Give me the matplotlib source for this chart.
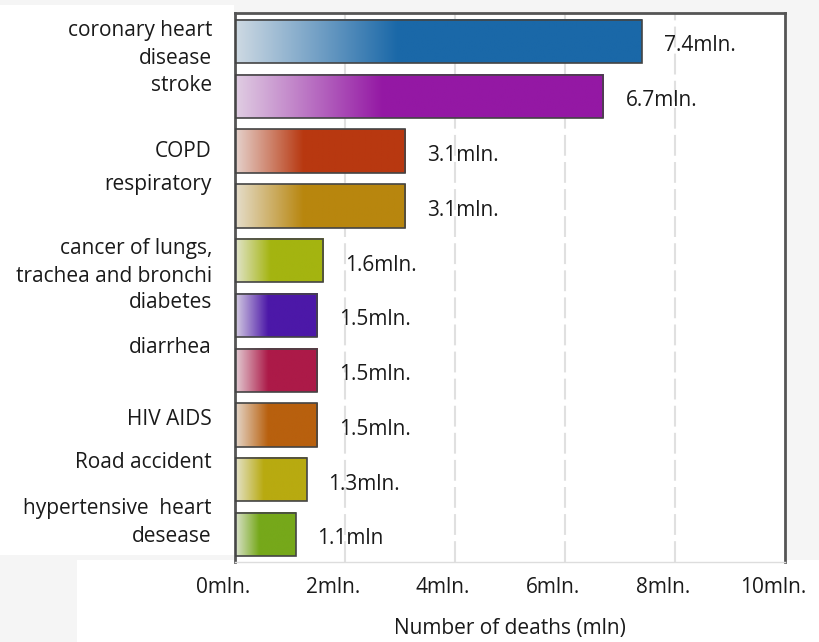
import numpy as np
import matplotlib.pyplot as plt
import matplotlib.transforms as mtransforms
from matplotlib.colors import to_rgb

plt.rcParams['font.family'] = ['Open Sans', 'DejaVu Sans']

causes = ['coronary heart\ndisease', 'stroke', 'COPD', 'respiratory',
          'cancer of lungs,\ntrachea and bronchi', 'diabetes', 'diarrhea',
          'HIV AIDS', 'Road accident', 'hypertensive  heart\ndesease']
deaths = [7.4, 6.7, 3.1, 3.1, 1.6, 1.5, 1.5, 1.5, 1.3, 1.1]
value_labels = ['7.4mln.', '6.7mln.', '3.1mln.', '3.1mln.', '1.6mln.',
                '1.5mln.', '1.5mln.', '1.5mln.', '1.3mln.', '1.1mln']
colors = ['#1a68a8', '#9418a4', '#b83810', '#b8860e', '#a4b410',
          '#4c18a8', '#ac1a48', '#b8600e', '#b8aa10', '#76a81a']
xticks = [0, 2, 4, 6, 8, 10]
xticklabels = ['0mln.', '2mln.', '4mln.', '6mln.', '8mln.', '10mln.']

# label placement is a bit off-centre in the original
label_shift = [0.06, -0.2, 0, -0.39, 0.03, -0.24, -0.42, -0.1, -0.32, -0.22]

fig = plt.figure(figsize=(8.19, 6.42), dpi=100, facecolor='#f5f5f5')
# white panels behind the labels and the x axis
fig.patches.append(plt.Rectangle((0, 87/642), 234/819, 550/642,
                                 transform=fig.transFigure,
                                 facecolor='white', edgecolor='none',
                                 zorder=-10))
fig.patches.append(plt.Rectangle((77/819, 0), 742/819, 82/642,
                                 transform=fig.transFigure,
                                 facecolor='white', edgecolor='none',
                                 zorder=-10))

ax = fig.add_axes([235/819, 1 - 562/642, 550/819, 549/642])  # llx, lly, w, h
ax.set_facecolor('white')

bar_h = 0.79
for i, (v, c) in enumerate(zip(deaths, colors)):
    c = np.array(to_rgb(c))
    start = 0.85 * np.array([0.93, 0.93, 0.93]) + 0.15 * c
    t = np.linspace(0, 1, 200)
    f = np.clip(t / 0.4, 0, 1)[:, None]
    grad = start * (1 - f) + c * f
    ax.imshow(grad[None, :, :], extent=(0, v, i + bar_h / 2, i - bar_h / 2),
              aspect='auto', interpolation='bilinear', zorder=2)
ax.barh(range(len(deaths)), deaths, height=bar_h, facecolor='none',
        edgecolor='#444444', linewidth=1.2, zorder=3)

for i, (v, lab) in enumerate(zip(deaths, value_labels)):
    ax.text(v + 0.4, i + 0.08, lab, va='center', ha='left',
            fontsize=15, color='#1a1a1a')

for i, (name, s) in enumerate(zip(causes, label_shift)):
    ax.text(-0.42, i + s, name, va='center', ha='right', fontsize=15,
            color='#1a1a1a', linespacing=1.45, clip_on=False)

ax.set_xlim(0, 10)
ax.set_ylim(len(deaths) - 0.5, -0.52)
ax.set_yticks([])
ax.set_xticks(xticks)
ax.set_xticklabels(xticklabels, fontsize=15, color='#1a1a1a')
ax.tick_params(axis='x', length=0, pad=11)
shift = mtransforms.ScaledTranslation(-12 / 100, 0, fig.dpi_scale_trans)
for lbl in ax.get_xticklabels():
    lbl.set_transform(lbl.get_transform() + shift)
ax.set_xlabel('Number of deaths (mln)', fontsize=15, color='#1a1a1a',
              labelpad=14)
for x in xticks[1:-1]:
    ax.axvline(x, color='#e0e0e0', linewidth=1.5, linestyle=(0, (10, 3)),
               zorder=1)

for side in ('top', 'left', 'right'):
    ax.spines[side].set_color('#555555')
    ax.spines[side].set_linewidth(2)
ax.spines['bottom'].set_color('#dddddd')
ax.spines['bottom'].set_linewidth(1)

fig.savefig('out.png', dpi=100, facecolor=fig.get_facecolor())
